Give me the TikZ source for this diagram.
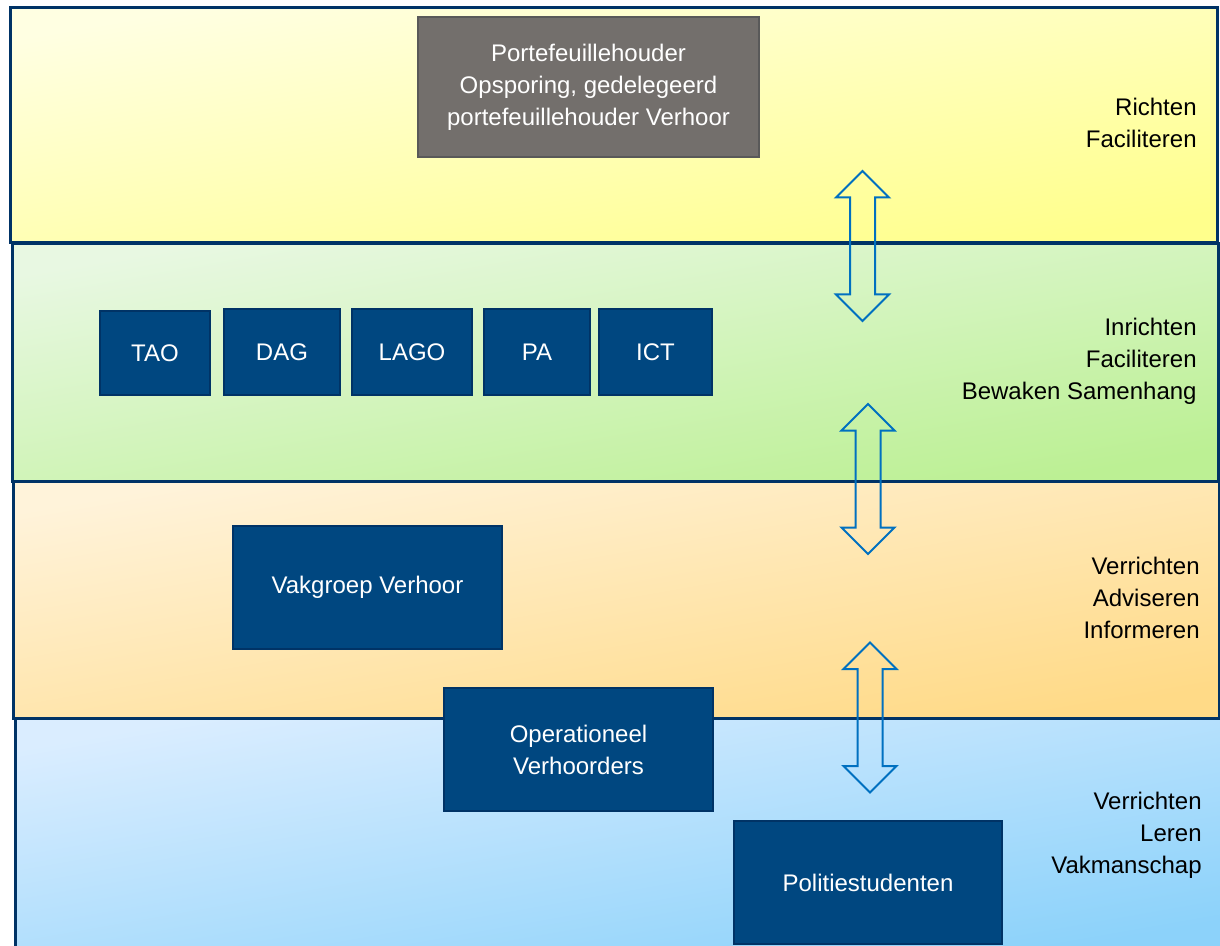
\documentclass[tikz,border=0pt]{standalone}
\usepackage{fontspec}
\setmainfont{Liberation Sans}
\usepackage{xcolor}
\definecolor{Col1}{RGB}{0,51,102}
\definecolor{Col2}{RGB}{0,71,128}
\definecolor{Col3}{RGB}{0,112,192}
\definecolor{Col4}{RGB}{115,111,108}
\definecolor{YelA}{RGB}{255,255,226}
\definecolor{YelB}{RGB}{255,255,140}
\definecolor{GrnA}{RGB}{232,248,226}
\definecolor{GrnB}{RGB}{188,240,148}
\definecolor{OrgA}{RGB}{255,243,218}
\definecolor{OrgB}{RGB}{255,218,135}
\definecolor{BluA}{RGB}{218,237,255}
\definecolor{BluB}{RGB}{140,210,250}
\usepackage{tikz}
\usetikzlibrary{shapes.arrows}
\tikzstyle{Band}=[draw=Col1,line width=1.5pt]
\tikzstyle{Box}=[rectangle,draw=Col1,fill=Col2,line width=.8pt,text=white,
align=center,font=\fontsize{12}{16}\selectfont]
\tikzstyle{BoxGrey}=[Box,draw=black!65,fill=Col4]
\tikzstyle{Task}=[align=right,anchor=east,inner sep=0pt,
font=\fontsize{12}{16}\selectfont]
\tikzstyle{Arrow}=[double arrow,draw=Col3,line width=1pt,rotate=90,
inner xsep=0pt,inner ysep=5.75pt,minimum height=75pt,minimum width=25.5pt,
double arrow head extend=7pt,double arrow tip angle=90]

\begin{document}
\begin{tikzpicture}[x=0.5pt,y=-0.5pt]
        \useasboundingbox(0,0)rectangle(1220,946);
        % layers
        \draw[Band,top color=YelA,bottom color=YelB,shading angle=10]
            (10,8)rectangle(1217,243);
        \draw[Band,top color=GrnA,bottom color=GrnB,shading angle=10]
            (12,244)rectangle(1218,481);
        \draw[Band,top color=OrgA,bottom color=OrgB,shading angle=10]
            (13,481)rectangle(1219,718);
        \draw[Band,top color=BluA,bottom color=BluB,shading angle=10]
            (15,718)rectangle(1224,952);
        % boxes
        \node[BoxGrey,minimum width=170.5pt,minimum height=70pt](pfh)
            at(588.5,87){Portefeuillehouder\\Opsporing, gedelegeerd\\portefeuillehouder Verhoor};
        \node[Box,minimum width=55pt,minimum height=42pt](tao)at(155,353){TAO};
        \node[Box,minimum width=58pt,minimum height=43pt](dag)at(282,352){DAG};
        \node[Box,minimum width=60pt,minimum height=43pt](lago)at(412,352){LAGO};
        \node[Box,minimum width=53pt,minimum height=43pt](pa)at(537,352){PA};
        \node[Box,minimum width=56.5pt,minimum height=43pt](ict)at(655.5,352){ICT};
        \node[Box,minimum width=134.5pt,minimum height=61.5pt](vakgroep)
            at(367.5,587.5){Vakgroep Verhoor};
        \node[Box,minimum width=134.5pt,minimum height=61.5pt](operationeel)
            at(578.5,749.5){Operationeel\\Verhoorders};
        \node[Box,minimum width=134pt,minimum height=61.5pt](studenten)
            at(868,882.5){Politiestudenten};
        % tasks
        \node[Task](t1)at(1197,123){Richten\\Faciliteren};
        \node[Task](t2)at(1197,361){Inrichten\\Faciliteren\\Bewaken Samenhang};
        \node[Task](t3)at(1200,598){Verrichten\\Adviseren\\Informeren};
        \node[Task](t4)at(1202,835){Verrichten\\Leren\\Vakmanschap};
        % arrows
        \node[Arrow](a1)at(862.5,246){};
        \node[Arrow](a2)at(868,479){};
        \node[Arrow](a3)at(870,717.5){};
    \end{tikzpicture}
\end{document}
